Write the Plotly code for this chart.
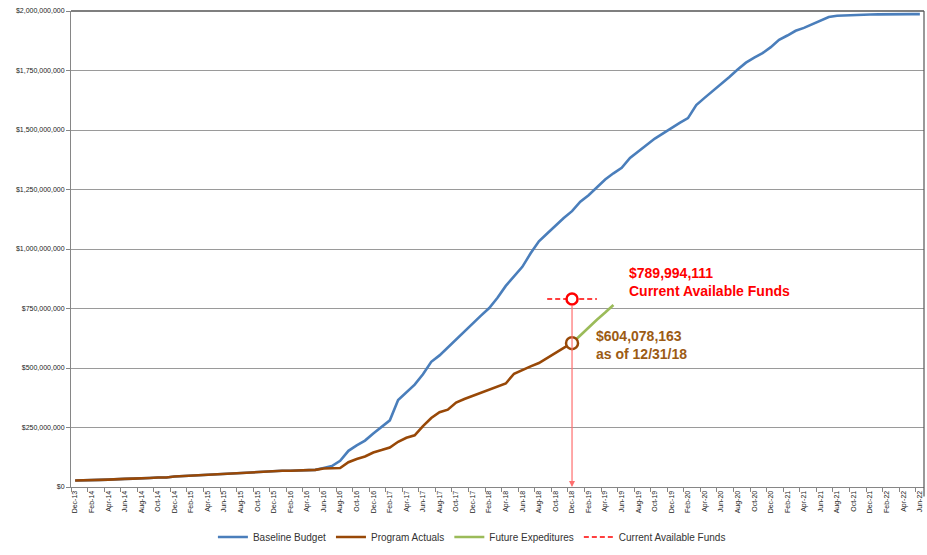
import pandas as pd
import plotly.graph_objects as go

# Month categories (Dec-13 .. Jun-22)
months = pd.date_range("2013-12-01", "2022-06-01", freq="MS").strftime("%b-%y").tolist()

# Baseline budget ($M), one value per month
baseline_m = [27, 27, 27, 30, 31, 31, 34, 35, 35, 38, 40, 40, 44, 46, 46, 50, 51, 52, 56, 57,
              58, 63, 64, 64, 67, 68, 68, 69, 71, 72, 80, 88, 110, 152, 175, 195, 225, 252, 280, 365,
              397, 430, 474, 526, 553, 587, 620, 655, 690, 720, 752, 795, 845, 885, 925, 982, 1032, 1065, 1099, 1130,
              1159, 1199, 1226, 1257, 1292, 1318, 1341, 1383, 1412, 1437, 1464, 1486, 1511, 1530, 1550, 1605, 1635, 1663, 1693, 1723,
              1754, 1783, 1804, 1823, 1848, 1879, 1897, 1917, 1929, 1944, 1961, 1975, 1980, 1982, 1983, 1984, 1985, 1986, 1987, 1987,
              1987, 1987, 1987]

# Program actuals ($M), Dec-13 .. Dec-18
actuals_m = [27, 27, 27, 30, 31, 31, 34, 35, 35, 38, 40, 40, 44, 46, 46, 50, 51, 52, 56, 57,
             58, 63, 64, 64, 67, 68, 68, 69, 71, 72, 78, 80, 80, 104, 118, 128, 145, 155, 166, 190,
             207, 217, 256, 290, 314, 325, 355, 370, 383, 395, 407, 420, 435, 476, 493, 507, 521, 543, 566, 585,
             604.078163]

# Future expenditures ($M), Dec-18 .. May-19
future_m = [604.078163, 638, 672, 703, 733, 765]
future_start = 60

# Current available funds
avail_value = 789994111
avail_span = (57, 63)
status_idx = 60
actual_value = 604078163

baseline = [v * 1e6 for v in baseline_m]
actuals = [v * 1e6 for v in actuals_m]
future = [v * 1e6 for v in future_m]

x_all = list(range(len(months)))
blue = "#4A7EBB"
brown = "#984807"
green = "#9BBB59"
red = "#FF0000"

fig = go.Figure()
fig.add_trace(go.Scatter(x=x_all, y=baseline, mode="lines", name="Baseline Budget",
                         line=dict(color=blue, width=2.6)))
fig.add_trace(go.Scatter(x=x_all[:len(actuals)], y=actuals, mode="lines", name="Program Actuals",
                         line=dict(color=brown, width=2.6)))
fig.add_trace(go.Scatter(x=x_all[future_start:future_start + len(future)], y=future, mode="lines",
                         name="Future Expeditures", line=dict(color=green, width=2.6)))
ax_span = list(range(avail_span[0], avail_span[1] + 1))
fig.add_trace(go.Scatter(x=ax_span, y=[avail_value] * len(ax_span), mode="lines",
                         name="Current Available Funds", line=dict(color=red, width=1.6, dash="5px,3px")))

# vertical arrow
fig.add_annotation(x=status_idx, y=0, ax=status_idx, ay=avail_value, xref="x", yref="y",
                   axref="x", ayref="y", text="", showarrow=True, arrowhead=2, arrowsize=1,
                   arrowwidth=1.2, arrowcolor="#FF6F6F", standoff=0, startstandoff=5)

fig.add_trace(go.Scatter(x=[status_idx], y=[avail_value], mode="markers", showlegend=False,
                         marker=dict(size=11, color="white", line=dict(color=red, width=2.5))))
fig.add_trace(go.Scatter(x=[status_idx], y=[actual_value], mode="markers", showlegend=False,
                         marker=dict(size=12, color="white", line=dict(color=brown, width=2.5))))

fig.add_annotation(x=status_idx + 6.6, y=avail_value, xref="x", yref="y", xanchor="left", yanchor="bottom",
                   text=f"<b>${avail_value:,}</b><br><b>Current Available Funds</b>", showarrow=False, align="left",
                   font=dict(family="Liberation Sans", size=14, color=red), yshift=-2)
fig.add_annotation(x=status_idx + 2.6, y=actual_value, xref="x", yref="y", xanchor="left", yanchor="middle",
                   text=f"<b>${actual_value:,}</b><br><b>as of 12/31/18</b>", showarrow=False, align="left",
                   font=dict(family="Liberation Sans", size=14, color="#9C5B14"), yshift=-2)

fig.update_traces(selector=dict(mode="lines"), hoverinfo="skip")

tick_idx = list(range(0, len(months), 2))
fig.update_layout(
    width=927, height=555,
    margin=dict(l=71, r=3, t=11, b=60),
    paper_bgcolor="white", plot_bgcolor="white",
    font=dict(family="Liberation Sans", color="#333333"),
    showlegend=True,
    legend=dict(orientation="h", x=0.47, xanchor="center", y=-0.105, yanchor="middle",
                font=dict(size=10, color="#333333"), itemwidth=30, tracegroupgap=0),
    xaxis=dict(range=[-0.5, len(months) - 0.5], tickmode="array", tickvals=tick_idx,
               ticktext=[months[i] for i in tick_idx], tickangle=-90, ticks="", automargin=False,
               tickfont=dict(size=7, color="#222222"), showgrid=False, zeroline=False,
               showline=True, linecolor="#868686", linewidth=1,
               minor=dict(tickmode="array", tickvals=[i - 0.5 for i in tick_idx], ticks="outside",
                          ticklen=4, tickcolor="#868686", showgrid=False)),
    yaxis=dict(range=[0, 2e9], tickmode="array", tickvals=[i * 250e6 for i in range(9)],
               ticktext=["$0"] + [f"${int(i * 250e6):,}" for i in range(1, 9)], automargin=False,
               tickfont=dict(size=7, color="#222222"), ticks="outside", ticklen=4, tickcolor="#868686",
               showgrid=True, gridcolor="#9A9A9A", gridwidth=1, zeroline=False,
               showline=True, linecolor="#868686", linewidth=1),
)
# top border / right frame
fig.add_shape(type="line", xref="paper", yref="paper", x0=0, x1=1, y0=1, y1=1,
              line=dict(color="#555555", width=1.5))
fig.add_shape(type="line", xref="paper", yref="paper", x0=1.0, x1=1.0, y0=1, y1=-0.02,
              line=dict(color="#555555", width=1.2))

fig.write_html("out.html", config={"displayModeBar": False},
               post_script="document.body.style.margin='0';document.body.style.overflow='hidden';")
